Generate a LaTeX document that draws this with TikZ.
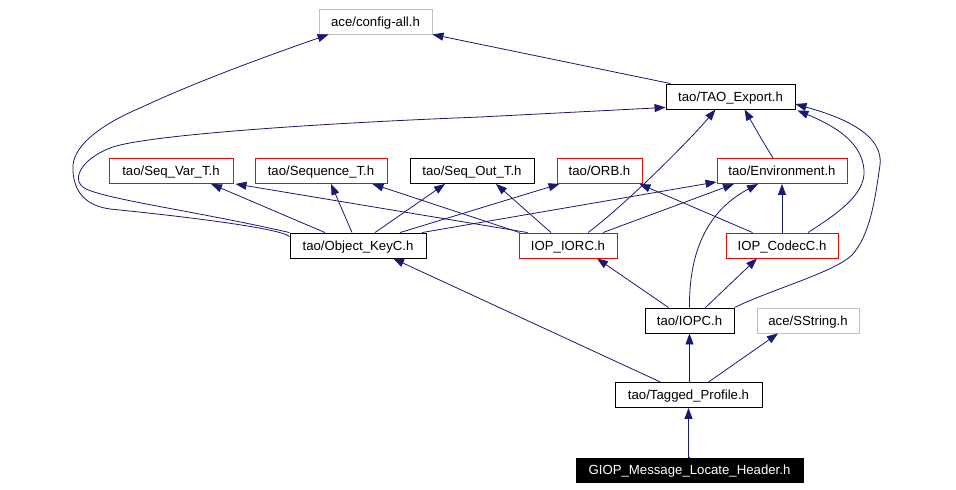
\documentclass[tikz,border=0pt]{standalone}
\usepackage{fontspec}
\setmainfont{Liberation Sans}
\usetikzlibrary{arrows.meta,calc}
\definecolor{edgeblue}{RGB}{25,25,112}
\definecolor{boxgray}{RGB}{191,191,191}
\tikzset{
  box/.style={draw=black, line width=0.9pt, inner sep=0pt, minimum height=25pt, text height=9.5pt, text depth=0pt, font=\fontsize{13.2}{15}\selectfont},
  redbox/.style={box, draw=red},
  graybox/.style={box, draw=boxgray},
  rootbox/.style={box, fill=black, text=white},
  e/.style={draw=edgeblue, line width=0.8pt, -{Triangle[length=11pt,width=8pt]}},
}
\begin{document}
\begin{tikzpicture}[x=1pt,y=-1pt]
\useasboundingbox (0,0) rectangle (956,490);
% nodes
\node[graybox, minimum width=113pt] (cfg) at (375.5,21.5) {ace/config-all.h};
\node[box, minimum width=129pt] (tao) at (730.5,96.5) {tao/TAO\_Export.h};
\node[redbox, minimum width=124pt] (svt) at (171,171) {tao/Seq\_Var\_T.h};
\node[redbox, minimum width=132pt] (seq) at (321,171) {tao/Sequence\_T.h};
\node[box, minimum width=124pt] (sot) at (472,171) {tao/Seq\_Out\_T.h};
\node[redbox, minimum width=85pt] (orb) at (599.5,171) {tao/ORB.h};
\node[redbox, minimum width=130pt] (env) at (782,171) {tao/Environment.h};
\node[box, minimum width=136pt] (ok) at (358,245.5) {tao/Object\_KeyC.h};
\node[redbox, minimum width=98pt] (iorc) at (568,245.5) {IOP\_IORC.h};
\node[redbox, minimum width=112pt] (codec) at (782,245.5) {IOP\_CodecC.h};
\node[box, minimum width=89pt] (iopc) at (689.5,320.5) {tao/IOPC.h};
\node[graybox, minimum width=102pt] (sstr) at (808,320.5) {ace/SString.h};
\node[box, minimum width=147pt] (tag) at (688.5,395) {tao/Tagged\_Profile.h};
\node[rootbox, minimum width=227pt, minimum height=24pt] (giop) at (689.5,470) {GIOP\_Message\_Locate\_Header.h};
% edges
\draw[e] (giop.north) -- (tag.north |- giop.north) -- (tag.south);
\draw[e] (tag.north -| iopc) -- (iopc.south);
\draw[e] ($(tag.north)+(20,0)$) -- ($(sstr.south)+(-30,0)$);
\draw[e] ($(tag.north)+(-28,0)$) -- ($(ok.south)+(35,0)$);
\draw[e] ($(iopc.north)+(-21,0)$) -- ($(iorc.south)+(29,0)$);
\draw[e] ($(iopc.north)+(16,0)$) -- ($(codec.south)+(-25,0)$);
\draw[e] (iopc.north) .. controls (689,255) and (705,212) .. ($(env.south)+(-24,0)$);
\draw[e] (iopc.north east) .. controls (770,290) and (835,272) .. (852,255)
  .. controls (870,235) and (875,200) .. (880,165)
  .. controls (884,130) and (830,114) .. ($(tao.east)+(0,7.5)$);
\draw[e] (codec.north) -- (env.south);
\draw[e] ($(codec.north west)+(27,0)$) -- ($(orb.south east)+(-3,0)$);
\draw[e] ($(codec.north)+(26,0)$) .. controls (835,215) and (866,195) .. (864,170)
  .. controls (862,140) and (830,124) .. ($(tao.south east)+(2,1)$);
\draw[e] ($(iorc.north)+(20,0)$) .. controls (625,205) and (690,140) .. ($(tao.south)+(-15,0)$);
\draw[e] ($(iorc.north)+(35,0)$) -- ($(env.south)+(-48,0)$);
\draw[e] ($(iorc.north)+(-17,0)$) -- ($(sot.south)+(24,0)$);
\draw[e] ($(iorc.north west)+(1,0)$) -- ($(seq.south east)+(-15,0)$);
\draw[e] ($(iorc.north west)+(9,0)$) -- ($(svt.south east)+(2,0)$);
\draw[e] ($(env.north)+(-9,0)$) .. controls (762,140) .. ($(tao.south)+(14,0)$);
\draw[e] ($(ok.north)+(-33,0)$) -- ($(svt.south)+(40,0)$);
\draw[e] ($(ok.north)+(-6,0)$) -- ($(seq.south)+(10,0)$);
\draw[e] ($(ok.north)+(17,0)$) -- ($(sot.south)+(-27,0)$);
\draw[e] ($(ok.north)+(42,0)$) -- ($(orb.south west)+(3,0)$);
\draw[e] ($(ok.north)+(64,0)$) -- ($(env.south west)+(0,-2)$);
\draw[e] (ok.north west) .. controls (200,212) and (110,200) .. (86,189)
  .. controls (70,181) and (80,160) .. (110,148)
  .. controls (140,136) and (300,124) .. (480,117)
  -- ($(tao.south west)+(0,-2)$);
\draw[e] ($(ok.north west)+(0,4)$) .. controls (280,228) and (180,216) .. (110,209)
  .. controls (80,205) and (72,185) .. (73,165)
  .. controls (75,145) and (100,125) .. (140,108)
  .. controls (200,80) and (270,55) .. ($(cfg.south west)+(10,0)$);
\draw[e] ($(tao.north west)+(5,0)$) -- (cfg.south east);
\end{tikzpicture}
\end{document}
